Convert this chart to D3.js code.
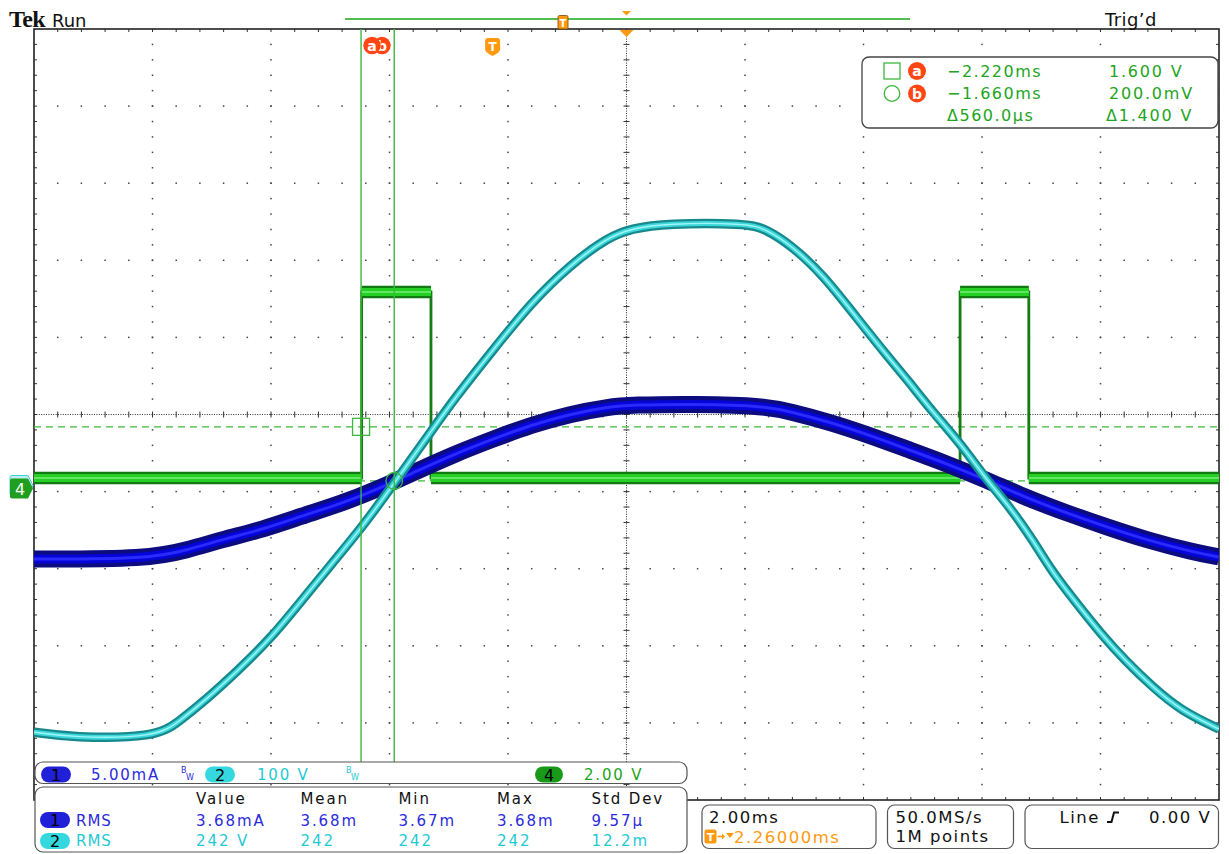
<!DOCTYPE html>
<html><head><meta charset="utf-8">
<script src="https://cdn.jsdelivr.net/npm/d3@7"></script>
<style>
html,body{margin:0;padding:0;background:#fff;}
svg{display:block;}
text{font-family:"DejaVu Sans",Verdana,sans-serif;}
</style></head><body>
<svg id="c" width="1229" height="854"></svg>
<script>
// ---------------- data (time in ms relative to trigger) ----------------
const ch1Time = [-7.74,-5.80,-5.16,-4.52,-3.86,-3.22,-2.58,-1.93,-1.28,-0.64,0.01,0.65,1.31,1.95,2.34,3.45,4.60,5.05,5.69,6.35,6.99,7.64,8.34,9.02,9.69,10.37,11.04,11.82,12.26];
const ch1Current = [-4.57,-4.57,-3.99,-3.27,-2.63,-1.78,-1.01,-0.03,1.13,2.24,3.21,4.12,4.83,5.29,5.42,5.48,5.35,4.96,4.31,3.47,2.56,1.65,0.55,-0.62,-1.59,-2.50,-3.34,-4.12,-4.44]; // mA
const ch2Time = [-7.74,-7.10,-5.68,-5.29,-4.84,-4.31,-3.74,-3.22,-2.71,-2.20,-1.65,-1.02,-0.64,0.01,0.65,1.31,1.95,2.34,2.93,4.28,4.60,5.05,5.58,6.15,6.67,6.99,7.43,7.89,8.34,8.73,9.12,9.46,9.86,10.25,10.71,11.15,11.60,12.23,12.26];
const ch2Voltage = [-316,-323,-323,-302,-274,-237,-194,-145,-97,-50,8,76,117,180,241,290,326,337,344,344,337,315,277,221,171,142,99,59,11,-24,-67,-110,-149,-187,-226,-258,-287,-311,-312]; // V
const ch4Time = [-7.74,-2.21,-2.21,-1.04,-1.04,7.89,7.89,9.05,9.05,12.26];
const ch4Voltage = [0.27,0.27,5.10,5.10,0.27,0.27,5.10,5.10,0.27,0.27]; // V

const cursorTimes = [-2.22,-1.66];   // ms
const cursorVolts = [1.6,0.2];       // V (ch4)
const cursorLabels = ["a","b"];
const cursorTimeText = ["\u22122.220ms","\u22121.660ms","\u0394560.0\u00b5s"];
const cursorVoltText = ["1.600 V","200.0mV","\u03941.400 V"];

const channelIds = ["1","2","4"];
const channelScaleText = ["5.00mA","100 V","2.00 V"];
const measHeaders = ["Value","Mean","Min","Max","Std Dev"];
const measCh1 = ["3.68mA","3.68m","3.67m","3.68m","9.57\u00b5"];
const measCh2 = ["242 V","242","242","242","12.2m"];
const timebaseText = ["2.00ms","2.26000ms"];
const acqText = ["50.0MS/s","1M points"];
const trigText = ["Line","0.00 V"];

// settings
const timePerDiv = 2.0, horizDelay = 2.26;
const vPerDiv = {c1:5, c2:100, c4:2};
const chPos = -0.96;

// ---------------- layout ----------------
const X0=34, X1=1219, Y0=29, Y1=800;
const svg = d3.select("#c");
const gx = d3.scaleLinear().domain([0,10]).range([X0,X1]);
const gy = d3.scaleLinear().domain([0,10]).range([Y0,Y1]);
const x = d3.scaleLinear().domain([horizDelay-5*timePerDiv, horizDelay+5*timePerDiv]).range([X0,X1]);
const yS = v => d3.scaleLinear().domain([(-5-chPos)*v,(5-chPos)*v]).range([Y1,Y0]);
const y1 = yS(vPerDiv.c1), y2 = yS(vPerDiv.c2), y4 = yS(vPerDiv.c4);

const GREEN="#3cb83c", TXTGREEN="#22a422", BLUE_T="#2b2bdc", CYAN_T="#1fc9d2", ORANGE="#ff9a10", RED="#ff4614";

svg.append("defs").append("clipPath").attr("id","clip")
  .append("rect").attr("x",X0).attr("y",Y0).attr("width",X1-X0).attr("height",Y1-Y0);

// ---------------- graticule ----------------
const grid = svg.append("g");
const minors = d3.range(1,50).map(j=>j/5);
[1,2,3,4,6,7,8,9].forEach(i=>{
  minors.forEach(m=>{
    grid.append("rect").attr("x",gx(i)-0.75).attr("y",gy(m)-0.75).attr("width",1.5).attr("height",1.5).attr("fill","#444");
    grid.append("rect").attr("x",gx(m)-0.75).attr("y",gy(i)-0.75).attr("width",1.5).attr("height",1.5).attr("fill","#444");
  });
});
grid.append("line").attr("x1",X0).attr("x2",X1).attr("y1",gy(5)).attr("y2",gy(5))
  .attr("stroke","#333").attr("stroke-width",1).attr("stroke-dasharray","1,1.4");
grid.append("line").attr("y1",Y0).attr("y2",Y1).attr("x1",gx(5)).attr("x2",gx(5))
  .attr("stroke","#333").attr("stroke-width",1).attr("stroke-dasharray","1,1.4");
minors.forEach(m=>{
  grid.append("line").attr("x1",gx(m)).attr("x2",gx(m)).attr("y1",gy(5)-3).attr("y2",gy(5)+3).attr("stroke","#333").attr("stroke-width",1);
  grid.append("line").attr("y1",gy(m)).attr("y2",gy(m)).attr("x1",gx(5)-3).attr("x2",gx(5)+3).attr("stroke","#333").attr("stroke-width",1);
  grid.append("line").attr("x1",gx(m)).attr("x2",gx(m)).attr("y1",Y0).attr("y2",Y0+3).attr("stroke","#333");
  grid.append("line").attr("x1",gx(m)).attr("x2",gx(m)).attr("y1",Y1).attr("y2",Y1-3).attr("stroke","#333");
  grid.append("line").attr("y1",gy(m)).attr("y2",gy(m)).attr("x1",X0).attr("x2",X0+3).attr("stroke","#333");
  grid.append("line").attr("y1",gy(m)).attr("y2",gy(m)).attr("x1",X1).attr("x2",X1-3).attr("stroke","#333");
});
grid.append("rect").attr("x",X0).attr("y",Y0).attr("width",X1-X0).attr("height",Y1-Y0)
  .attr("fill","none").attr("stroke","#222").attr("stroke-width",1.6);

const plot = svg.append("g").attr("clip-path","url(#clip)");
cursorVolts.forEach(v=>{
  plot.append("line").attr("x1",X0).attr("x2",X1).attr("y1",y4(v)).attr("y2",y4(v))
    .attr("stroke",GREEN).attr("stroke-width",1.3).attr("stroke-dasharray","7,5");
});

// ---------------- traces ----------------
const ch4 = ch4Time.map((t,i)=>[t,ch4Voltage[i]]);
plot.append("path").attr("d",d3.line().x(d=>x(d[0])).y(d=>y4(d[1]))(ch4))
  .attr("fill","none").attr("stroke","#137c13").attr("stroke-width",2.8);
for(let i=0;i<ch4.length-1;i++){
  if(ch4[i][1]===ch4[i+1][1]){
    const seg=[ch4[i],ch4[i+1]];
    [["#117a11",12.5],["#25cf25",8],["#5fe85f",2]].forEach(([c,w])=>{
      plot.append("line").attr("x1",x(seg[0][0])).attr("x2",x(seg[1][0]))
        .attr("y1",y4(seg[0][1])).attr("y2",y4(seg[1][1])).attr("stroke",c).attr("stroke-width",w);
    });
  }
}
const ln1 = d3.line().x((d,i)=>x(ch1Time[i])).y(d=>y1(d)).curve(d3.curveBasis);
[["#0c0c7e",17],["#0505d8",9],["#2a2aff",3]].forEach(([c,w])=>{
  plot.append("path").attr("d",ln1(ch1Current)).attr("fill","none").attr("stroke",c).attr("stroke-width",w).attr("stroke-linejoin","round");
});
const ln2 = d3.line().x((d,i)=>x(ch2Time[i])).y(d=>y2(d)).curve(d3.curveBasis);
[["#17898d",9.5],["#3dd6db",5],["#a2f6f6",1.4]].forEach(([c,w])=>{
  plot.append("path").attr("d",ln2(ch2Voltage)).attr("fill","none").attr("stroke",c).attr("stroke-width",w).attr("stroke-linejoin","round");
});

// vertical cursors
cursorTimes.forEach(t=>{
  svg.append("line").attr("x1",x(t)).attr("x2",x(t)).attr("y1",Y0).attr("y2",762)
    .attr("stroke",GREEN).attr("stroke-width",1.4);
});
svg.append("rect").attr("x",x(cursorTimes[0])-8.5).attr("y",y4(cursorVolts[0])-8.5).attr("width",17).attr("height",17)
  .attr("fill","none").attr("stroke",GREEN).attr("stroke-width",1.3);
svg.append("circle").attr("cx",x(cursorTimes[1])).attr("cy",y4(cursorVolts[1])).attr("r",8.3)
  .attr("fill","none").attr("stroke",GREEN).attr("stroke-width",1.3);

// cursor labels at top (b behind a)
[[1,382],[0,372]].forEach(([i,cx])=>{
  svg.append("circle").attr("cx",cx).attr("cy",45.5).attr("r",8.7).attr("fill",RED);
  svg.append("text").attr("x",cx).attr("y",50.5).attr("text-anchor","middle").attr("fill","#fff")
    .attr("font-size",14).attr("font-weight","bold").text(cursorLabels[i]);
});

// trigger markers
function shield(cx,top,w,h){
  return `M${cx-w/2},${top+3} Q${cx-w/2},${top} ${cx-w/2+3},${top} L${cx+w/2-3},${top} Q${cx+w/2},${top} ${cx+w/2},${top+3} L${cx+w/2},${top+h*0.62} Q${cx+w/2},${top+h*0.8} ${cx},${top+h} Q${cx-w/2},${top+h*0.8} ${cx-w/2},${top+h*0.62} Z`;
}
const xt = x(0);
svg.append("path").attr("d",shield(xt,38,15,18)).attr("fill",ORANGE);
svg.append("text").attr("x",xt).attr("y",51).attr("text-anchor","middle").attr("fill","#fff").attr("font-size",12).attr("font-weight","bold").text("T");
svg.append("path").attr("d",`M${gx(5)-7},${Y0+1} L${gx(5)+7},${Y0+1} L${gx(5)},${Y0+8} Z`).attr("fill",ORANGE);
svg.append("path").attr("d",`M${gx(5)-4.5},11 L${gx(5)+4.5},11 L${gx(5)},15.5 Z`).attr("fill",ORANGE);
svg.append("line").attr("x1",345).attr("x2",910).attr("y1",19).attr("y2",19).attr("stroke","#52be52").attr("stroke-width",2);
svg.append("rect").attr("x",558).attr("y",15.5).attr("width",10).attr("height",13.5).attr("rx",1.5).attr("fill",ORANGE).attr("stroke","#7a4a00").attr("stroke-width",0.8);
svg.append("text").attr("x",563).attr("y",26.5).attr("text-anchor","middle").attr("fill","#fff").attr("font-size",10).attr("font-weight","bold").text("T");

// channel ground markers on the left
function gmark(yc){return `M10,${yc-8} Q10,${yc-10} 12,${yc-10} L28,${yc-10} L33,${yc} L28,${yc+10} L12,${yc+10} Q10,${yc+10} 10,${yc+8} Z`;}
svg.append("path").attr("d",gmark(y4(0)-3)).attr("fill","#bdeff3").attr("stroke","#3fd0d8").attr("stroke-width",1);
svg.append("path").attr("d",gmark(y4(0))).attr("fill","#1f9e1f");
svg.append("text").attr("x",20).attr("y",y4(0)+6).attr("text-anchor","middle").attr("fill","#fff").attr("font-size",16).text("4");

// ---------------- top text ----------------
svg.append("text").attr("x",9).attr("y",27).style("font-family","'Liberation Serif',serif").attr("font-weight","bold")
  .attr("font-size",24).attr("letter-spacing","-0.6").attr("fill","#111").text("Tek");
svg.append("text").attr("x",52).attr("y",26.5).attr("font-size",18).attr("fill","#111").text("Run");
svg.append("text").attr("x",1105).attr("y",26).attr("font-size",18).attr("letter-spacing",0.4).attr("fill","#111").text("Trig\u2019d");

// ---------------- cursor readout ----------------
const ro = svg.append("g");
ro.append("rect").attr("x",862).attr("y",57).attr("width",356).attr("height",71).attr("rx",7)
  .attr("fill","#fff").attr("stroke","#444").attr("stroke-width",1.3);
ro.append("rect").attr("x",884).attr("y",63).attr("width",16).attr("height",16).attr("fill","none").attr("stroke",GREEN).attr("stroke-width",1.3);
ro.append("circle").attr("cx",892).attr("cy",93.5).attr("r",7.8).attr("fill","none").attr("stroke",GREEN).attr("stroke-width",1.3);
[[0,71],[1,93.5]].forEach(([i,cy])=>{
  ro.append("circle").attr("cx",917).attr("cy",cy).attr("r",9).attr("fill",RED);
  ro.append("text").attr("x",917).attr("y",cy+5).attr("text-anchor","middle").attr("fill","#fff").attr("font-size",14).attr("font-weight","bold").text(cursorLabels[i]);
});
[77,99,121].forEach((by,i)=>{
  ro.append("text").attr("x",947).attr("y",by).attr("font-size",16).attr("letter-spacing",1.5).attr("fill",TXTGREEN).text(cursorTimeText[i]);
  ro.append("text").attr("x",i===2?1106:1109).attr("y",by).attr("font-size",16).attr("letter-spacing",1.8).attr("fill",TXTGREEN).text(cursorVoltText[i]);
});

// ---------------- channel panel ----------------
const cp = svg.append("g");
cp.append("rect").attr("x",35).attr("y",762).attr("width",652).attr("height",21.5).attr("rx",8).attr("fill","#fff").attr("stroke","#555").attr("stroke-width",1.2);
function pill(g,x0,cy,w,fill,label){
  g.append("rect").attr("x",x0).attr("y",cy-8).attr("width",w).attr("height",16).attr("rx",8).attr("fill",fill);
  g.append("text").attr("x",x0+w/2).attr("y",cy+6).attr("text-anchor","middle").attr("font-size",16).attr("fill","#000").text(label);
}
const chFill=["#2020d8","#35d8df","#189a18"], chText=[BLUE_T,CYAN_T,TXTGREEN];
const pillX=[41,205,535], valX=[91,257,584];
channelIds.forEach((id,i)=>{
  pill(cp,pillX[i],774.5,i===2?28:30,chFill[i],id);
  cp.append("text").attr("x",valX[i]).attr("y",779.5).attr("font-size",15).attr("letter-spacing",1.8).attr("fill",chText[i]).text(channelScaleText[i]);
});
[[181,BLUE_T],[346,CYAN_T]].forEach(([bx,c])=>{
  cp.append("text").attr("x",bx).attr("y",773).attr("font-size",8).attr("fill",c).text("B");
  cp.append("text").attr("x",bx+5).attr("y",780).attr("font-size",8).attr("fill",c).text("W");
});

// ---------------- measurement panel ----------------
const mp = svg.append("g");
mp.append("rect").attr("x",35).attr("y",787).attr("width",652).attr("height",65).attr("rx",8).attr("fill","#fff").attr("stroke","#555").attr("stroke-width",1.2);
const colX=[196,300.5,398.5,497,591.5];
measHeaders.forEach((h,i)=>mp.append("text").attr("x",colX[i]).attr("y",803.5).attr("font-size",15).attr("letter-spacing",1.9).attr("fill","#111").text(h));
[[measCh1,826,820,chFill[0],BLUE_T,"1"],[measCh2,846,841,chFill[1],CYAN_T,"2"]].forEach(([row,by,cy,f,c,id])=>{
  pill(mp,40,cy,30,f,id);
  mp.append("text").attr("x",76).attr("y",by).attr("font-size",15).attr("letter-spacing",1).attr("fill",c).text("RMS");
  row.forEach((v,i)=>mp.append("text").attr("x",colX[i]).attr("y",by).attr("font-size",15).attr("letter-spacing",1.9).attr("fill",c).text(v));
});

// ---------------- bottom right boxes ----------------
const br = svg.append("g");
[[702,174],[887.5,126],[1025,193.5]].forEach(([bx,w])=>{
  br.append("rect").attr("x",bx).attr("y",805).attr("width",w).attr("height",43.5).attr("rx",7).attr("fill","#fff").attr("stroke","#555").attr("stroke-width",1.2);
});
br.append("text").attr("x",709).attr("y",823).attr("font-size",16.5).attr("letter-spacing",1.5).attr("fill","#111").text(timebaseText[0]);
br.append("rect").attr("x",704.5).attr("y",829.5).attr("width",12).attr("height",14).attr("rx",2).attr("fill",ORANGE);
br.append("text").attr("x",710.5).attr("y",841).attr("text-anchor","middle").attr("font-size",11).attr("font-weight","bold").attr("fill","#fff").text("T");
br.append("path").attr("d","M717.5,836.5 L723,836.5").attr("stroke",ORANGE).attr("stroke-width",1.6);
br.append("path").attr("d","M722,833.5 L725,836.5 L722,839.5 Z").attr("fill",ORANGE);
br.append("path").attr("d","M726,833 L734,833 L730,838 Z").attr("fill",ORANGE);
br.append("text").attr("x",734).attr("y",843).attr("font-size",16.5).attr("letter-spacing",1.5).attr("fill",ORANGE).text(timebaseText[1]);
br.append("text").attr("x",895.5).attr("y",823).attr("font-size",16.5).attr("letter-spacing",1.5).attr("fill","#111").text(acqText[0]);
br.append("text").attr("x",895.5).attr("y",842).attr("font-size",16.5).attr("letter-spacing",1.5).attr("fill","#111").text(acqText[1]);
br.append("text").attr("x",1059.5).attr("y",823).attr("font-size",16.5).attr("letter-spacing",1.5).attr("fill","#111").text(trigText[0]);
br.append("path").attr("d","M1107,822 L1111.5,822 L1114,812.5 L1119,812.5").attr("fill","none").attr("stroke","#111").attr("stroke-width",2);
br.append("text").attr("x",1149).attr("y",823).attr("font-size",16.5).attr("letter-spacing",1.5).attr("fill","#111").text(trigText[1]);
</script>
</body></html>
